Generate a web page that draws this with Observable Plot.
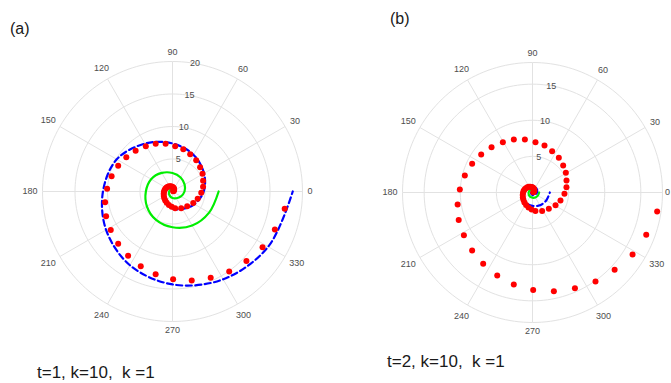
<!DOCTYPE html>
<html><head><meta charset="utf-8">
<script src="https://cdn.jsdelivr.net/npm/d3@7"></script>
<script src="https://cdn.jsdelivr.net/npm/@observablehq/plot@0.6"></script>
<style>
body{margin:0;background:#fff;}
#root{position:relative;width:671px;height:383px;overflow:hidden;background:#fff;font-family:"Liberation Sans",Arial,sans-serif;}
.lbl{position:absolute;white-space:pre;color:#1a1a1a;line-height:1;}
.pnl{position:absolute;}
</style></head><body><div id="root"></div>
<script>
// ---- data ----
const angleTicks = [0,30,60,90,120,150,180,210,240,270,300,330];
const ringsA = [5,10,15,20]; const rMaxA = 20;
const ringsB = [5,10,15];    const rMaxB = 18;
const titles = ["(a)", "(b)"];
const captions = ["t=1, k=10,  k =1", "t=2, k=10,  k =1"];

// red dots (same reference solution in both panels): angle (deg), radius
const redTheta = [15,27,39,51,63,75,87,99,111,123,135,147,159,171,183,195,207,219,231,243,255,267,279,
  297.4,315,331.2,344,357.6,8.9,19.4,30.5,41.4,52.8,64.6,75.7,86.6,98.2,109.4,120.5,132.1,143.5,154.6,165.9,
  177.6,189.1,200.4,212,223.9,235.3,247,258.5,270.4,282.2,293.9,305.3,316.8,328.2,339.6,351.3];
const redR = [0.1,0.2,0.3,0.4,0.5,0.6,0.7,0.78,0.87,0.95,1.02,1.1,1.18,1.25,1.32,1.4,1.5,1.62,1.78,1.95,2.15,2.35,2.6,
  2.9,3.2,3.64,4.03,4.43,4.76,4.99,5.36,5.66,6.03,6.34,6.72,6.98,7.41,7.78,8.09,8.46,8.84,9.25,9.66,
  10.07,10.5,10.9,11.2,11.6,12.0,12.5,13.0,13.5,14.0,14.5,15.1,15.6,16.3,16.8,17.46];

// unwrapped angles (deg) for the continuous curves
const curveTheta = [0,30,60,90,120,150,180,210,240,270,300,330,360,390,420,450,480,510,540,570,600,630,660,690,720];
const blueA  = [0.05,0.3,0.55,0.8,1.0,1.15,1.35,1.65,2.05,2.6,3.1,3.9,4.8,5.6,6.5,7.4,8.5,9.9,10.7,11.8,13.1,14.3,15.6,17.0,18.5];
const greenA = [0.02,0.12,0.2,0.3,0.38,0.44,0.52,0.63,0.8,1.0,1.2,1.5,1.85,2.15,2.5,2.85,3.3,3.8,4.1,4.55,5.05,5.5,6.05,6.5,7.1];
const blueB  = [0.01,0.04,0.07,0.1,0.13,0.15,0.18,0.21,0.27,0.34,0.4,0.5,0.62,0.73,0.85,0.96,1.1,1.28,1.4,1.53,1.7,1.85,2.05,2.2,2.4];
const greenB = [0.01,0.02,0.03,0.04,0.05,0.06,0.07,0.08,0.1,0.13,0.16,0.2,0.24,0.28,0.33,0.37,0.43,0.49,0.53,0.59,0.66,0.72,0.79,0.85,0.92];

// ---- helpers ----
const D2R = Math.PI / 180;
const px = (t, r) => r * Math.cos(t * D2R);
const py = (t, r) => r * Math.sin(t * D2R);
const toPts = (ths, rs) => ths.map((t, i) => ({x: px(t, rs[i]), y: py(t, rs[i])}));
const FONT = "Liberation Sans, Arial, sans-serif";

function panel(o) {
  const {width, height, cx, cy, R, rMax, rings, blue, green} = o;
  const k = R / rMax;
  const ringList = Array.from(new Set([...rings, rMax]));
  const ringPts = ringList.flatMap(r => d3.range(0, 361, 2).map(a => ({x: px(a, r), y: py(a, r), ring: r})));
  const pad = a => {
    const c = Math.abs(Math.cos(a * D2R)), s = Math.abs(Math.sin(a * D2R));
    return 5 + c * String(a).length * 2.5 + s * 4;
  };
  const lr = a => rMax + pad(a) / k;
  // keep the angle labels inside the panel's right edge
  const xMaxData = (width - cx - 4) / k;
  const lx = a => Math.min(px(a, lr(a)), xMaxData);
  const red = toPts(redTheta, redR);
  return Plot.plot({
    width, height, margin: 0,
    style: {fontFamily: FONT, background: "transparent"},
    x: {domain: [-cx / k, (width - cx) / k], axis: null},
    y: {domain: [-(height - cy) / k, cy / k], axis: null},
    marks: [
      Plot.line(ringPts, {x: "x", y: "y", z: "ring", stroke: "#e2e2e2", strokeWidth: 1}),
      Plot.link(angleTicks, {x1: () => 0, y1: () => 0, x2: a => px(a, rMax), y2: a => py(a, rMax), stroke: "#e2e2e2", strokeWidth: 1}),
      Plot.text(angleTicks, {x: lx, y: a => py(a, lr(a)), text: a => String(a), fontSize: 9, fill: "#4d4d4d"}),
      Plot.text(rings, {x: r => px(80, r), y: r => py(80, r), text: r => String(r), fontSize: 9, fill: "#4d4d4d"}),
      Plot.line(toPts(curveTheta, green), {x: "x", y: "y", stroke: "#00ee00", strokeWidth: 2.2, curve: "catmull-rom"}),
      Plot.line(toPts(curveTheta, blue), {x: "x", y: "y", stroke: "#0000ff", strokeWidth: 2.2, strokeDasharray: "6,3.5", curve: "catmull-rom"}),
      Plot.dot(red, {x: "x", y: "y", r: 3, fill: "#ff0000"})
    ]
  });
}

const root = document.getElementById("root");
function place(el, left, top) { el.classList.add("pnl"); el.style.left = left + "px"; el.style.top = top + "px"; root.appendChild(el); }

const TOP = 42;
place(panel({width: 340, height: 300, cx: 172, cy: 191 - TOP, R: 130, rMax: rMaxA, rings: ringsA, blue: blueA, green: greenA}), 0, TOP);
place(panel({width: 331, height: 300, cx: 192, cy: 192 - TOP, R: 130, rMax: rMaxB, rings: ringsB, blue: blueB, green: greenB}), 340, TOP);

function label(text, left, top, size) {
  const d = document.createElement("div");
  d.className = "lbl"; d.textContent = text;
  d.style.left = left + "px"; d.style.top = top + "px"; d.style.fontSize = size + "px";
  root.appendChild(d);
}
label(titles[0], 10, 20.5, 16);
label(titles[1], 390, 10.5, 16);
label(captions[0], 37, 363.5, 17);
label(captions[1], 387, 353, 17);
</script></body></html>
